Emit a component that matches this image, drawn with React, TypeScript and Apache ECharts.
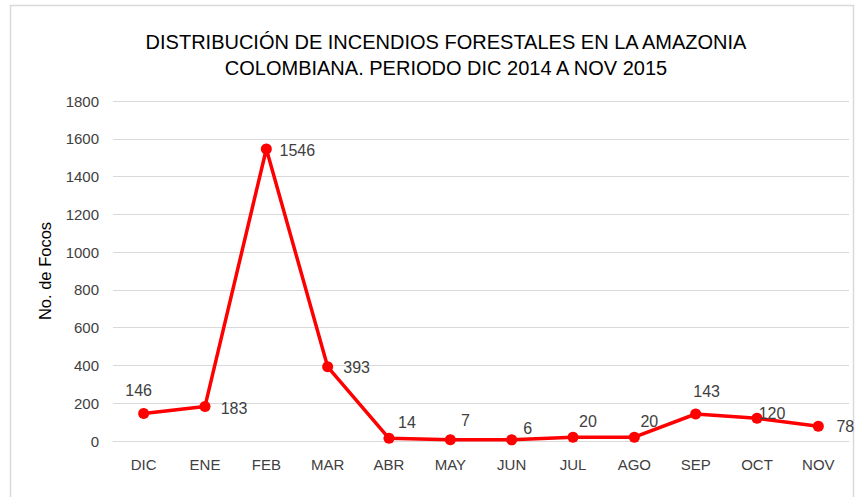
import React, { useEffect, useRef } from "react";
import * as echarts from "echarts";

const categories = ["DIC", "ENE", "FEB", "MAR", "ABR", "MAY", "JUN", "JUL", "AGO", "SEP", "OCT", "NOV"];
const focos = [146, 183, 1546, 393, 14, 7, 6, 20, 20, 143, 120, 78];
const titleLines = ["DISTRIBUCIÓN DE INCENDIOS FORESTALES EN LA AMAZONIA", "COLOMBIANA. PERIODO DIC 2014 A NOV 2015"];
const yAxisName = "No. de Focos";

const labelOffsets: [number, number][] = [
  [-5, -23], [29, 2], [31, 2], [29, 1], [18, -16], [15, -19],
  [16, -11], [15, -16], [15, -16], [11, -22], [15, -5], [27, 0],
];

const FONT = "'Liberation Sans Narrow', 'Arial Narrow', 'Liberation Sans', sans-serif";

export default function App() {
  const ref = useRef<HTMLDivElement>(null);
  useEffect(() => {
    if (!ref.current) return;
    const chart = echarts.init(ref.current, undefined, { renderer: "svg" });
    chart.setOption({
      animation: false,
      backgroundColor: "#ffffff",
      graphic: [
        {
          type: "rect",
          shape: { x: 10.5, y: 5.5, width: 843, height: 500 },
          style: { fill: "none", stroke: "#d9d9d9", lineWidth: 1.5 },
          silent: true,
        },
      ],
      title: {
        text: titleLines.join("\n"),
        left: 441,
        top: 24,
        textAlign: "center",
        textStyle: {
          fontFamily: FONT,
          fontSize: 20,
          fontWeight: "normal",
          color: "#000000",
          lineHeight: 26,
        },
      },
      grid: { left: 113, right: 9, top: 101, bottom: 56, containLabel: false },
      xAxis: {
        type: "category",
        data: categories,
        boundaryGap: true,
        axisLine: { show: true, lineStyle: { color: "#d9d9d9", width: 1 } },
        axisTick: { show: false },
        axisLabel: { fontFamily: FONT, fontSize: 15, color: "#404040", margin: 16 },
      },
      yAxis: {
        type: "value",
        min: 0,
        max: 1800,
        interval: 200,
        name: yAxisName,
        nameLocation: "middle",
        nameGap: 60,
        nameTextStyle: { fontFamily: FONT, fontSize: 16.5, color: "#000000" },
        axisLine: { show: false },
        axisTick: { show: false },
        splitLine: { lineStyle: { color: "#d9d9d9", width: 1 } },
        axisLabel: {
          fontFamily: FONT,
          fontSize: 15,
          color: "#404040",
          margin: 14,
          formatter: (v: number) => String(v),
        },
      },
      series: [
        {
          type: "line",
          data: focos.map((v, i) => ({
            value: v,
            label: { offset: labelOffsets[i] },
          })),
          symbol: "circle",
          symbolSize: 11,
          lineStyle: { color: "#ff0000", width: 3.5 },
          itemStyle: { color: "#ff0000" },
          label: {
            show: true,
            position: "inside",
            fontFamily: FONT,
            fontSize: 16,
            color: "#404040",
          },
        },
      ],
    });
    return () => chart.dispose();
  }, []);
  return (
    <div
      ref={ref}
      style={{ position: "fixed", left: 0, top: 0, width: 858, height: 497 }}
    />
  );
}
